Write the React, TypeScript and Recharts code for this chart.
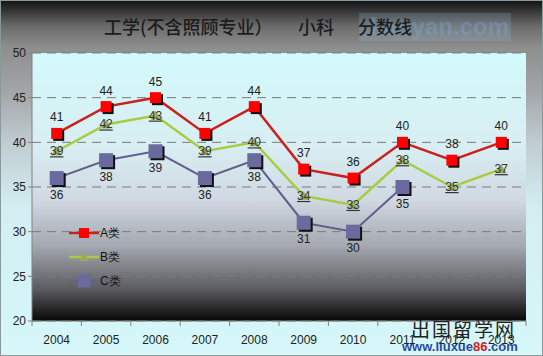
import { LineChart, Line, XAxis, YAxis, CartesianGrid, LabelList } from 'recharts';

const years = ['2004', '2005', '2006', '2007', '2008', '2009', '2010', '2011', '2012', '2013'];
const seriesA = [41, 44, 45, 41, 44, 37, 36, 40, 38, 40];
const seriesB = [39, 42, 43, 39, 40, 34, 33, 38, 35, 37];
const seriesC = [36, 38, 39, 36, 38, 31, 30, 35, null, null];
const yTicks = [20, 25, 30, 35, 40, 45, 50];
const titleParts = ['工学(不含照顾专业）', '小科', '分数线'];

const W = 543;
const H = 356;
const M = { top: 53, right: 17, left: 0, bottom: 0 };
const Y_W = 32;
const HALF_BAND = (W - Y_W - M.right) / years.length / 2;

const data = years.map((y, i) => ({ year: y, A: seriesA[i], B: seriesB[i], C: seriesC[i] }));

const font = '"Liberation Sans", Arial, sans-serif';
const cjk = '"Noto Sans CJK SC", sans-serif';

function SquareDot({ cx, cy, value, size, color }: any) {
  if (value == null || cx == null || cy == null) return null;
  const h = size / 2;
  return (
    <g>
      <rect x={cx - h + 2} y={cy - h + 2} width={size} height={size} fill="#111" />
      <rect x={cx - h} y={cy - h} width={size} height={size} fill={color} />
    </g>
  );
}

function TriDot({ cx, cy, value }: any) {
  if (value == null || cx == null || cy == null) return null;
  return <path d={`M${cx - 5},${cy + 4} L${cx},${cy - 5} L${cx + 5},${cy + 4} Z`} fill="#9aa860" />;
}

function XTick({ x, y, payload, index }: any) {
  return (
    <g>
      <line x1={x - HALF_BAND} y1={y} x2={x - HALF_BAND} y2={y + 5} stroke="#808080" />
      {index === years.length - 1 && (
        <line x1={x + HALF_BAND} y1={y} x2={x + HALF_BAND} y2={y + 5} stroke="#808080" />
      )}
      <text x={x} y={y + 23} textAnchor="middle" fontSize={12} fill="#222" fontFamily={font}>
        {payload.value}
      </text>
    </g>
  );
}

function BLabel({ x, y, value }: any) {
  if (value == null) return null;
  return (
    <text x={x} y={y + 4} textAnchor="middle" fontSize={12} fill="#333" fontFamily={font} textDecoration="underline">
      {value}
    </text>
  );
}

const legendItems = [
  { name: 'A类', color: '#cc2020', kind: 'sq', fill: '#ff0000', size: 10 },
  { name: 'B类', color: '#a8cc40', kind: 'tri', fill: '#9aa860', size: 10 },
  { name: 'C类', color: '#60608a', kind: 'sq', fill: '#6a6a9e', size: 13 },
];

function LegendBox() {
  return (
    <svg width={80} height={70} style={{ position: 'absolute', left: 66, top: 222 }}>
      {legendItems.map((it, i) => {
        const cy = 10 + i * 24;
        return (
          <g key={it.name}>
            <line x1={2} y1={cy} x2={32} y2={cy} stroke={it.color} strokeWidth={2.5} />
            {it.kind === 'sq' ? (
              <rect x={17 - it.size / 2} y={cy - it.size / 2} width={it.size} height={it.size} fill={it.fill} />
            ) : (
              <path d={`M12,${cy + 4} L17,${cy - 5} L22,${cy + 4} Z`} fill={it.fill} />
            )}
            <text x={33} y={cy + 4} fontSize={12} fill="#111" fontFamily={font}>
              {it.name}
            </text>
          </g>
        );
      })}
    </svg>
  );
}

const titleLeft = [103, 297, 357];

export default function App() {
  return (
    <div
      style={{
        position: 'absolute',
        left: 0,
        top: 0,
        width: W,
        height: H,
        boxSizing: 'border-box',
        border: '1px solid #8a9a9a',
        background:
          'linear-gradient(to bottom, #141414 0%, #6a6a6a 7%, #8e8e8e 13%, #a2a4a6 25%, #c0ccd0 40%, #d2eef2 58%, #d6f8fa 100%)',
        overflow: 'hidden',
      }}
    >
      <div
        style={{
          position: 'absolute',
          left: 358,
          top: 12,
          width: 150,
          height: 28,
          background: 'rgba(150,190,225,0.22)',
          fontFamily: font,
          fontWeight: 700,
          fontSize: 24,
          lineHeight: '28px',
          color: 'rgba(130,170,210,0.35)',
          textAlign: 'right',
          paddingRight: 2,
        }}
      >
        kaoyan.com
      </div>
      {titleParts.map((t, i) => (
        <div
          key={t}
          style={{
            position: 'absolute',
            top: 13,
            left: titleLeft[i],
            fontFamily: cjk,
            fontSize: 18,
            fontWeight: 500,
            lineHeight: '24px',
            color: '#1c1c1c',
            whiteSpace: 'pre',
          }}
        >
          {t}
        </div>
      ))}
      <div
        style={{
          position: 'absolute',
          top: 56,
          left: 400,
          fontFamily: cjk,
          fontWeight: 700,
          fontSize: 22,
          color: 'rgba(150,165,170,0.55)',
          letterSpacing: 4,
        }}
      >
        考研加油站
      </div>
      <div style={{ position: 'absolute', left: -1, top: -1 }}>
        <LineChart width={W} height={H} data={data} margin={M}>
          <defs>
            <linearGradient id="plotBg" x1="0" y1="0" x2="0" y2="1">
              <stop offset="0%" stopColor="#d2fafc" />
              <stop offset="35%" stopColor="#d8eef2" />
              <stop offset="55%" stopColor="#d0d8e2" />
              <stop offset="72%" stopColor="#a4a8b0" />
              <stop offset="88%" stopColor="#5c5c60" />
              <stop offset="100%" stopColor="#080606" />
            </linearGradient>
          </defs>
          <CartesianGrid
            vertical={false}
            stroke="#7a7a7a"
            strokeDasharray="9 6"
            fill="url(#plotBg)"
            fillOpacity={1}
          />
          <XAxis
            dataKey="year"
            scale="band"
            stroke="#808080"
            tickLine={false}
            tickSize={0}
            tickMargin={0}
            height={35}
            tick={<XTick />}
            interval={0}
          />
          <YAxis
            domain={[20, 50]}
            ticks={yTicks}
            width={Y_W}
            stroke="#808080"
            tickSize={4}
            tick={{ fontSize: 12, fill: '#222', fontFamily: font }}
            interval={0}
          />
          <Line
            dataKey="C"
            stroke="#60608a"
            strokeWidth={2}
            isAnimationActive={false}
            dot={(p: any) => <SquareDot key={`c${p.index}`} {...p} size={14} color="#6a6a9e" />}
            activeDot={false}
          >
            <LabelList dataKey="C" position="bottom" offset={12} fontSize={12} fill="#222" fontFamily={font} />
          </Line>
          <Line
            dataKey="B"
            stroke="#a8cc40"
            strokeWidth={2.5}
            isAnimationActive={false}
            dot={(p: any) => <TriDot key={`b${p.index}`} {...p} />}
            activeDot={false}
          >
            <LabelList dataKey="B" content={<BLabel />} />
          </Line>
          <Line
            dataKey="A"
            stroke="#cc2020"
            strokeWidth={2.5}
            isAnimationActive={false}
            dot={(p: any) => <SquareDot key={`a${p.index}`} {...p} size={11} color="#ff0000" />}
            activeDot={false}
          >
            <LabelList dataKey="A" position="top" offset={12} fontSize={12} fill="#222" fontFamily={font} />
          </Line>
        </LineChart>
      </div>
      <LegendBox />
      <div
        style={{
          position: 'absolute',
          left: 410,
          top: 318,
          fontFamily: cjk,
          fontSize: 19,
          lineHeight: '20px',
          color: '#222',
          letterSpacing: 2,
        }}
      >
        出国留学网
      </div>
      <div
        style={{
          position: 'absolute',
          left: 401,
          top: 338,
          fontFamily: font,
          fontWeight: 700,
          fontSize: 13,
          color: '#2a4aa0',
        }}
      >
        www.liuxue<span style={{ color: '#d02020' }}>86</span>.com
      </div>
    </div>
  );
}
